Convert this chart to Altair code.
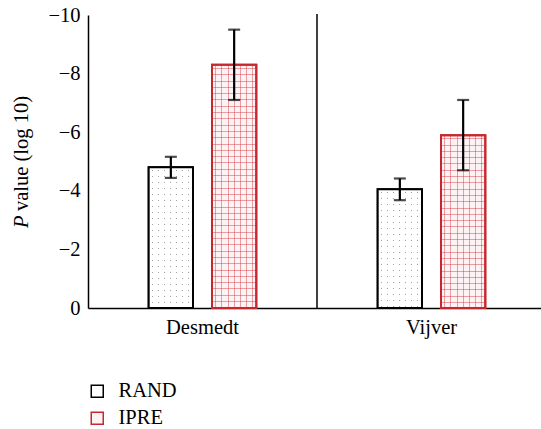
import altair as alt
import pandas as pd

# ---- data ----
groups = ["Desmedt", "Desmedt", "Vijver", "Vijver"]
methods = ["RAND", "IPRE", "RAND", "IPRE"]
values = [4.8, 8.3, 4.05, 5.9]          # magnitude of log10 P value (axis shows negatives)
errors = [0.36, 1.2, 0.37, 1.2]
y_ticks = [0, 2, 4, 6, 8, 10]

df = pd.DataFrame({
    "group": groups,
    "method": methods,
    "value": values,
    "lo": [v - e for v, e in zip(values, errors)],
    "hi": [v + e for v, e in zip(values, errors)],
})

FONT = "Liberation Serif"
FS = 20.5
W, H = 453, 293
RANGE_W = 458
Y_MAX = 10
BAR_W = 44.3
RED = "#c6282f"

x_enc = alt.X("group:N", sort=["Desmedt", "Vijver"],
              scale=alt.Scale(paddingInner=0.53, paddingOuter=0.265, range=[0, RANGE_W]),
              axis=alt.Axis(title=None, ticks=False, labelAngle=0, labelFont=FONT,
                            labelFontSize=FS, labelColor="black", labelPadding=9,
                            domainColor="black", domainWidth=1.5))
xo_enc = alt.XOffset("method:N", sort=["RAND", "IPRE"],
                     scale=alt.Scale(paddingInner=0.3, paddingOuter=0))
y_scale = alt.Scale(domain=[0, Y_MAX], nice=False)


def stripe_gradient(length_px, spacing, line_px, on_color, off_color, vertical):
    """Gradient with thin 'on' lines every `spacing` px on an 'off' background."""
    stops = [{"offset": 0, "color": off_color}]
    pos = spacing / 2.0
    while pos + line_px < length_px:
        a = pos / length_px
        b = (pos + line_px) / length_px
        stops += [{"offset": a, "color": off_color}, {"offset": a, "color": on_color},
                  {"offset": b, "color": on_color}, {"offset": b, "color": off_color}]
        pos += spacing
    stops.append({"offset": 1, "color": off_color})
    g = {"gradient": "linear", "stops": stops, "x1": 0, "y1": 0}
    if vertical:
        g.update({"x2": 0, "y2": 1})
    else:
        g.update({"x2": 1, "y2": 0})
    return g


base = alt.Chart(df)

# base bars carry the legend
bars = base.mark_bar(strokeWidth=2).encode(
    x=x_enc, xOffset=xo_enc,
    y=alt.Y("value:Q", scale=y_scale),
    fill=alt.Fill("method:N", sort=["RAND", "IPRE"],
                  scale=alt.Scale(domain=["RAND", "IPRE"], range=["#ffffff", "#fdf3f4"]),
                  legend=alt.Legend(title=None, orient="none", legendX=-1, legendY=366,
                                    symbolType="square", symbolSize=144,
                                    symbolStrokeWidth=1.5, labelFont=FONT,
                                    labelFontSize=FS, labelColor="black",
                                    labelOffset=11, rowPadding=6, padding=0)),
    stroke=alt.Stroke("method:N", sort=["RAND", "IPRE"],
                      scale=alt.Scale(domain=["RAND", "IPRE"], range=["black", RED])),
)

layers = [bars]

WHITE = "rgba(255,255,255,1)"
CLEAR = "rgba(255,255,255,0)"
LINE = "rgba(205,40,50,0.42)"


def inv_stripe(length_px, spacing, gap_px, vertical):
    return stripe_gradient(length_px, spacing, gap_px, CLEAR, WHITE, vertical)


for g, m, v in zip(groups, methods, values):
    h = v / Y_MAX * H
    sel = base.transform_filter((alt.datum.group == g) & (alt.datum.method == m))
    enc = dict(x=x_enc, xOffset=xo_enc, y=alt.Y("value:Q", scale=y_scale))
    if m == "RAND":
        layers.append(sel.mark_bar(fill="#a2a2a2", strokeWidth=0).encode(**enc))
        layers.append(sel.mark_bar(fill=inv_stripe(BAR_W, 6.0, 1.0, False), strokeWidth=0).encode(**enc))
        layers.append(sel.mark_bar(fill=inv_stripe(h, 6.0, 1.0, True), strokeWidth=0).encode(**enc))
    else:
        layers.append(sel.mark_bar(fill=stripe_gradient(BAR_W, 6.2, 1.0, LINE, CLEAR, False), strokeWidth=0).encode(**enc))
        layers.append(sel.mark_bar(fill=stripe_gradient(h, 6.3, 1.0, LINE, CLEAR, True), strokeWidth=0).encode(**enc))

# outlines on top
outline = base.mark_bar(fillOpacity=0, strokeWidth=2).encode(
    x=x_enc, xOffset=xo_enc,
    y=alt.Y("value:Q", scale=y_scale),
    stroke=alt.Stroke("method:N", sort=["RAND", "IPRE"], legend=None,
                      scale=alt.Scale(domain=["RAND", "IPRE"], range=["black", RED])),
)
layers.append(outline)

# error bars
err_rule = base.mark_rule(color="black", strokeWidth=2.2).encode(
    x=x_enc, xOffset=xo_enc,
    y=alt.Y("lo:Q", scale=y_scale), y2="hi:Q")
cap_lo = base.mark_tick(color="black", size=12, thickness=2.2).encode(
    x=x_enc, xOffset=xo_enc, y=alt.Y("lo:Q", scale=y_scale))
cap_hi = base.mark_tick(color="black", size=12, thickness=2.2).encode(
    x=x_enc, xOffset=xo_enc, y=alt.Y("hi:Q", scale=y_scale))
layers += [err_rule, cap_lo, cap_hi]

# y axis (no title, custom labels with minus sign)
yaxis = base.mark_bar(opacity=0).encode(
    y=alt.Y("value:Q", scale=y_scale,
            axis=alt.Axis(title=None, values=y_ticks, ticks=False, grid=False,
                          labelFont=FONT, labelFontSize=FS, labelColor="black",
                          labelPadding=8, domainColor="black", domainWidth=1.5,
                          labelExpr="datum.value == 0 ? '0' : '\u2212' + datum.value")))
layers.insert(0, yaxis)

one = alt.Chart(pd.DataFrame({"k": [0]}))
divider = one.mark_rule(color="black", strokeWidth=1.5).encode(
    x=alt.value(229), y=alt.value(-1), y2=alt.value(H))
title_p = one.mark_text(angle=270, align="left", baseline="middle", font=FONT,
                        fontSize=FS, fontStyle="italic", color="black").encode(
    x=alt.value(-66), y=alt.value(213), text=alt.value("P"))
title_rest = one.mark_text(angle=270, align="left", baseline="middle", font=FONT,
                           fontSize=FS, color="black").encode(
    x=alt.value(-66), y=alt.value(196), text=alt.value("value (log 10)"))
layers += [divider, title_p, title_rest]

chart = alt.layer(*layers).properties(
    width=W, height=H,
    autosize=alt.AutoSizeParams(type="none"),
    padding={"left": 88, "top": 15, "right": 0, "bottom": 121},
).configure_view(stroke=None)

chart.save("out.html", embed_options={"renderer": "svg", "actions": False})
